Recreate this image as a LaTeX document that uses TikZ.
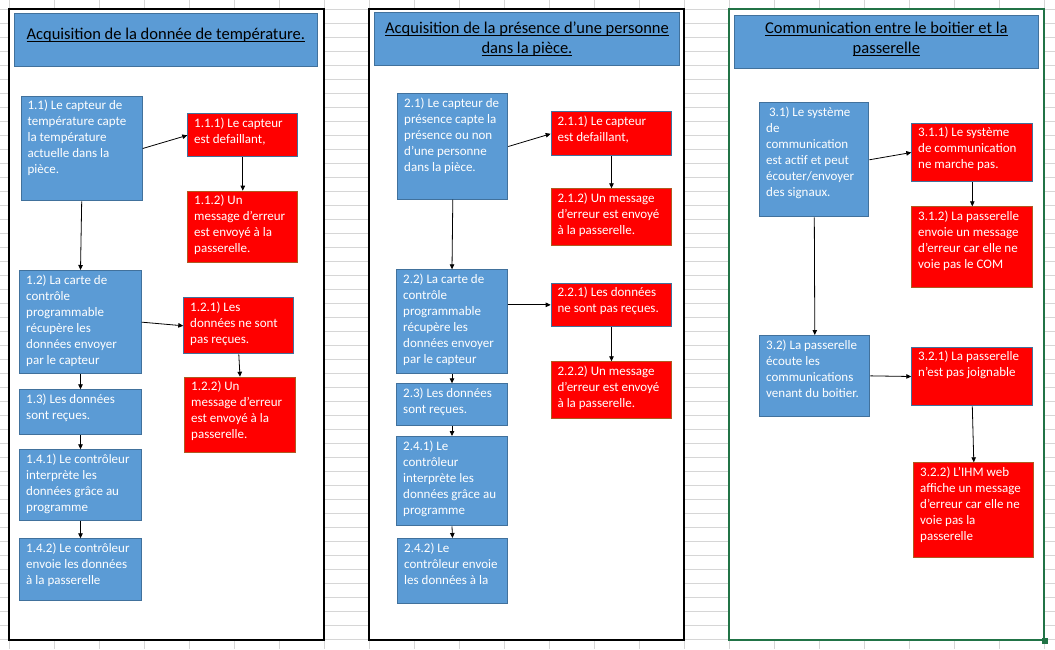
\documentclass[tikz,border=0pt]{standalone}
\usepackage{fontspec}
\setmainfont{Carlito}
\usetikzlibrary{arrows.meta}
\definecolor{boxblue}{HTML}{5B9BD5}
\definecolor{boxblueline}{HTML}{41719C}
\definecolor{boxred}{HTML}{FF0000}
\definecolor{brownline}{HTML}{AE5A21}
\definecolor{gridgray}{HTML}{D6D6D6}
\definecolor{xlgreen}{HTML}{217346}
\newsavebox\ulbox
\newcommand\undl[1]{\leavevmode\sbox\ulbox{#1}\rlap{\rule[-2.2pt]{\wd\ulbox}{0.9pt}}\usebox\ulbox}
\tikzset{
  gridln/.style={draw=gridgray, line width=0.9pt},
  panelbk/.style={draw=black, line width=2.6pt, fill=white},
  panelgr/.style={draw=xlgreen, line width=2pt, fill=white},
  bluebox/.style={rectangle, anchor=north west, inner sep=0pt, fill=boxblue, draw=boxblueline, line width=1pt},
  redboxa/.style={rectangle, anchor=north west, inner sep=0pt, fill=boxred, draw=boxblueline, line width=1pt},
  redboxb/.style={rectangle, anchor=north west, inner sep=0pt, fill=boxred, draw=brownline, line width=1pt},
  titlebox/.style={rectangle, anchor=north west, inner sep=0pt, fill=boxblue, draw=boxblueline, line width=1pt},
  txt/.style={anchor=north west, inner sep=0pt, text=white, font=\fontsize{13}{16}\selectfont},
  titletxt/.style={anchor=north, inner sep=0pt, text=black, font=\fontsize{16.5}{20}\selectfont},
  conn/.style={draw=black, line width=0.8pt, -{Triangle[length=5pt,width=4.5pt]}}
}
\newcommand\bx[7]{%
  \node[#1, minimum width=#5pt, minimum height=#6pt] (#2) at (#3,#4) {};
  \node[txt] (#2t) at ([shift={(6.7,2.8)}]#2.north west) {\begin{minipage}[t]{#5pt}\raggedright\strut #7\end{minipage}};
}
\begin{document}
\begin{tikzpicture}[x=1pt,y=-1pt]
\useasboundingbox (0,0) rectangle (1055,649);
\fill[white] (0,0) rectangle (1055,649);
% spreadsheet grid
\foreach \i in {0,...,23} \draw[gridln] ({9+45*\i},0) -- ({9+45*\i},649);
\foreach \j in {0,...,45} \draw[gridln] (0,{9.3+14*\j}) -- (1055,{9.3+14*\j});
% panels
\draw[panelbk] (9,9) rectangle (324,640);
\draw[panelbk] (369,9) rectangle (684,640);
\draw[panelgr] (729,9) rectangle (1044,640);
\fill[xlgreen] (1041.5,637.5) rectangle (1047.5,643.5);
% titles
\node[titlebox, minimum width=302.7pt, minimum height=52.7pt] (t1) at (14,13.3) {};
\node[titletxt] (t1t) at ([yshift=-11.8pt]t1.north) {\begin{minipage}[t]{300pt}\centering\strut\undl{Acquisition de la donnée de température.}\end{minipage}};
\node[titlebox, minimum width=305pt, minimum height=53pt] (t2) at (374,12.3) {};
\node[titletxt] (t2t) at ([yshift=-7.3pt]t2.north) {\begin{minipage}[t]{300pt}\centering\strut\undl{Acquisition de la présence d’une personne}\par\undl{dans la pièce.}\end{minipage}};
\node[titlebox, minimum width=303.7pt, minimum height=53.3pt] (t3) at (734,15) {};
\node[titletxt] (t3t) at ([yshift=-4.6pt]t3.north) {\begin{minipage}[t]{300pt}\centering\strut\undl{Communication entre le boitier et la}\par\undl{passerelle}\end{minipage}};
% panel 1
\bx{bluebox}{b11}{20.7}{95.7}{121}{104.6}{1.1) Le capteur de\\température capte\\la température\\actuelle dans la\\pièce.}
\bx{redboxa}{r111}{187.3}{113.3}{110}{43}{1.1.1) Le capteur\\est defaillant,}
\bx{redboxb}{r112}{187.3}{190.7}{110}{71.6}{1.1.2) Un\\message d’erreur\\est envoyé à la\\passerelle.}
\bx{bluebox}{b12}{19.3}{270}{121.4}{103.3}{1.2) La carte de\\contrôle\\programmable\\récupère les\\données envoyer\\par le capteur}
\bx{redboxa}{r121}{183.3}{297.3}{110}{56}{1.2.1) Les\\données ne sont\\pas reçues.}
\bx{redboxb}{r122}{184.3}{376.7}{110.4}{75.6}{1.2.2) Un\\message d’erreur\\est envoyé à la\\passerelle.}
\bx{bluebox}{b13}{19.3}{389.3}{121.4}{45}{1.3) Les données\\sont reçues.}
\bx{bluebox}{b141}{19.3}{449.3}{121.4}{71}{1.4.1) Le contrôleur\\interprète les\\données grâce au\\programme}
\bx{bluebox}{b142}{19.3}{538.3}{121.4}{62}{1.4.2) Le contrôleur\\envoie les données\\à la passerelle}
% panel 2
\bx{bluebox}{b21}{397.3}{93.3}{110}{105.4}{2.1) Le capteur de\\présence capte la\\présence ou non\\d’une personne\\dans la pièce.}
\bx{redboxa}{r211}{550.7}{111.3}{120.6}{44}{2.1.1) Le capteur\\est defaillant,}
\bx{redboxb}{r212}{550.7}{188.3}{120.6}{57}{2.1.2) Un message\\d’erreur est envoyé\\à la passerelle.}
\bx{bluebox}{b22}{396.3}{269.3}{110.4}{104}{2.2) La carte de\\contrôle\\programmable\\récupère les\\données envoyer\\par le capteur}
\bx{redboxa}{r221}{550.7}{282.7}{120.6}{43.3}{2.2.1) Les données\\ne sont pas reçues.}
\bx{redboxb}{r222}{550.7}{361.3}{120.6}{56.7}{2.2.2) Un message\\d’erreur est envoyé\\à la passerelle.}
\bx{bluebox}{b23}{396.3}{383.3}{110.4}{42}{2.3) Les données\\sont reçues.}
\bx{bluebox}{b241}{396.3}{436}{110.4}{89.3}{2.4.1) Le\\contrôleur\\interprète les\\données grâce au\\programme}
\bx{bluebox}{b242}{397.3}{538}{109.4}{65.3}{2.4.2) Le\\contrôleur envoie\\les données à la}
% panel 3
\bx{bluebox}{b31}{759.3}{102.3}{109}{114}{\ 3.1) Le système\\de\\communication\\est actif et peut\\écouter/envoyer\\des signaux.}
\bx{redboxa}{r311}{911.3}{122.7}{121}{58.6}{3.1.1) Le système\\de communication\\ne marche pas.}
\bx{redboxb}{r312}{911.3}{206.3}{121}{81}{3.1.2) La passerelle\\envoie un message\\d’erreur car elle ne\\voie pas le COM}
\bx{bluebox}{b32}{759.3}{335}{110}{80.7}{3.2) La passerelle\\écoute les\\communications\\venant du boitier.}
\bx{redboxa}{r321}{911.3}{346.7}{121}{58.6}{3.2.1) La passerelle\\n’est pas joignable}
\bx{redboxb}{r322}{913.3}{462.3}{120}{95}{3.2.2) L’IHM web\\affiche un message\\d’erreur car elle ne\\voie pas la\\passerelle}
% connectors panel 1
\draw[conn] (b11.east) -- (r111.west);
\draw[conn] (r111.south) -- (r112.north);
\draw[conn] (b11.south) -- (b12.north);
\draw[conn] (b12.east) -- (r121.west);
\draw[conn] (r121.south) -- (r122.north);
\draw[conn] (b12.south) -- (b13.north);
\draw[conn] (b13.south) -- (b141.north);
\draw[conn] (b141.south) -- (b142.north);
% connectors panel 2
\draw[conn] (b21.east) -- (r211.west);
\draw[conn] (r211.south) -- (r212.north);
\draw[conn] (b21.south) -- (b22.north);
\draw[conn] (b22.east |- r221.west) -- (r221.west);
\draw[conn] (r221.south) -- (r222.north);
\draw[conn] (b22.south) -- (b23.north);
\draw[conn] (b23.south) -- (b241.north);
\draw[conn] (b241.south) -- (b242.north);
% connectors panel 3
\draw[conn] (b31.east) -- (r311.west);
\draw[conn] (r311.south) -- (r312.north);
\draw[conn] (b31.south) -- (b32.north);
\draw[conn] (b32.east) -- (r321.west);
\draw[conn] (r321.south) -- (r322.north);
\end{tikzpicture}
\end{document}
